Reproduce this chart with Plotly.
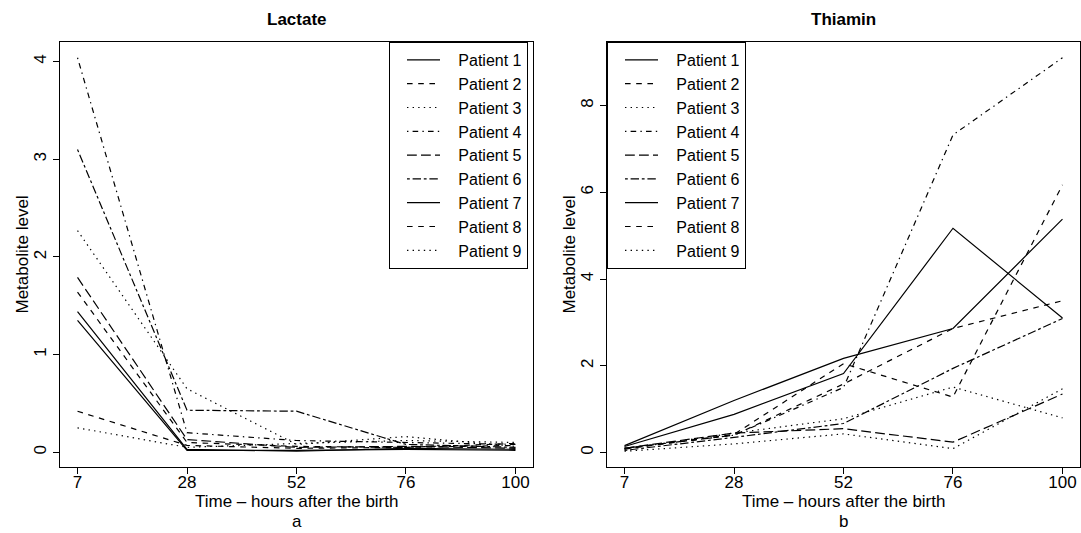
import plotly.graph_objects as go

# ---------------- data ----------------
times = ["7", "28", "52", "76", "100"]
patients = ["Patient 1", "Patient 2", "Patient 3", "Patient 4", "Patient 5",
            "Patient 6", "Patient 7", "Patient 8", "Patient 9"]

# Lactate, one row per patient (values at 7, 28, 52, 76, 100 h)
lactate = [
    [1.44, 0.03, 0.01, 0.04, 0.03],   # Patient 1
    [1.64, 0.10, 0.06, 0.05, 0.07],   # Patient 2
    [2.27, 0.65, 0.08, 0.16, 0.06],   # Patient 3
    [4.04, 0.20, 0.12, 0.10, 0.08],   # Patient 4
    [1.79, 0.13, 0.05, 0.06, 0.04],   # Patient 5
    [3.10, 0.43, 0.42, 0.08, 0.05],   # Patient 6
    [1.35, 0.02, 0.02, 0.03, 0.02],   # Patient 7
    [0.42, 0.07, 0.04, 0.05, 0.09],   # Patient 8
    [0.25, 0.05, 0.09, 0.12, 0.10],   # Patient 9
]

# Thiamin, one row per patient
thiamin = [
    [0.16, 1.20, 2.17, 2.86, 5.38],   # Patient 1
    [0.08, 0.42, 2.05, 1.28, 6.17],   # Patient 2
    [0.08, 0.45, 0.78, 1.51, 0.80],   # Patient 3
    [0.10, 0.40, 1.50, 7.32, 9.10],   # Patient 4
    [0.10, 0.45, 0.55, 0.24, 1.35],   # Patient 5
    [0.05, 0.35, 0.67, 1.94, 3.09],   # Patient 6
    [0.14, 0.88, 1.82, 5.17, 3.10],   # Patient 7
    [0.10, 0.40, 1.58, 2.86, 3.50],   # Patient 8
    [0.03, 0.20, 0.43, 0.09, 1.47],   # Patient 9
]

panel_titles = ["Lactate", "Thiamin"]
panel_letters = ["a", "b"]
x_title = "Time \u2013 hours after the birth"
y_title = "Metabolite level"

# ---------------- styles ----------------
W, H = 1081, 533
FONT = "Liberation Sans, Arial, Helvetica, sans-serif"
FS = 17
LEG_FS = 16
# R line types 1..6 (solid, dashed, dotted, dotdash, longdash, twodash)
dashes = ["solid", "5.6px,5.6px", "1.4px,4.2px", "1.4px,4.2px,5.6px,4.2px",
          "9.8px,4.2px", "2.8px,2.8px,8.4px,2.8px"]

# plot boxes in pixels
left_box = (60, 533)
right_box = (607, 1080)
top_px, bottom_px = 42, 467
legend_left_px = [389, 607]
PAD = "\u00a0\u00a0\u00a0"


def r_range(rows):
    vals = [v for r in rows for v in r]
    lo, hi = min(vals), max(vals)
    pad = 0.04 * (hi - lo)
    return [lo - pad, hi + pad]


n = len(times)
x_range = [-0.04 * (n - 1), (n - 1) * 1.04]

fig = go.Figure()
for i, name in enumerate(patients):
    fig.add_trace(go.Scatter(
        x=times, y=lactate[i], mode="lines", name=PAD + name,
        line=dict(color="black", width=1.2, dash=dashes[i % 6]),
        xaxis="x", yaxis="y", legend="legend"))
for i, name in enumerate(patients):
    fig.add_trace(go.Scatter(
        x=times, y=thiamin[i], mode="lines", name=PAD + name,
        line=dict(color="black", width=1.2, dash=dashes[i % 6]),
        xaxis="x2", yaxis="y2", legend="legend2"))

common_ax = dict(showgrid=False, zeroline=False, ticks="outside", ticklen=6,
                 tickwidth=1, tickcolor="black", showline=True, mirror=True,
                 linecolor="black", linewidth=1,
                 tickfont=dict(family=FONT, size=FS, color="black"))

ydom = [1 - bottom_px / H, 1 - top_px / H]
fig.update_layout(
    width=W, height=H, margin=dict(l=0, r=0, t=0, b=0),
    paper_bgcolor="white", plot_bgcolor="white",
    font=dict(family=FONT, size=FS, color="black"),
    xaxis=dict(domain=[left_box[0] / W, left_box[1] / W], anchor="y",
               type="category", range=x_range, ticklabelstandoff=-6, **common_ax),
    yaxis=dict(domain=ydom, anchor="x", range=r_range(lactate),
               tick0=0, dtick=1, tickangle=-90, **common_ax),
    xaxis2=dict(domain=[right_box[0] / W, right_box[1] / W], anchor="y2",
                type="category", range=x_range, ticklabelstandoff=-6, **common_ax),
    yaxis2=dict(domain=ydom, anchor="x2", range=r_range(thiamin),
                tick0=0, dtick=2, tickangle=-90, **common_ax),
    showlegend=True,
)

leg_common = dict(y=1 - top_px / H, xanchor="left", yanchor="top",
                  bgcolor="white", bordercolor="black", borderwidth=1,
                  font=dict(family=FONT, size=LEG_FS, color="black"),
                  indentation=12, itemwidth=33, tracegroupgap=0)
fig.update_layout(legend=dict(x=legend_left_px[0] / W, **leg_common),
                  legend2=dict(x=legend_left_px[1] / W, **leg_common))

annots = []
for (l, r), t, letter in zip([left_box, right_box], panel_titles, panel_letters):
    cx = (l + r) / 2 / W
    annots.append(dict(text="<b>" + t + "</b>", x=cx, y=1 - 19 / H,
                       xref="paper", yref="paper", showarrow=False,
                       xanchor="center", yanchor="middle",
                       font=dict(family=FONT, size=FS, color="black")))
    annots.append(dict(text=x_title, x=cx, y=1 - 501 / H,
                       xref="paper", yref="paper", showarrow=False,
                       xanchor="center", yanchor="middle",
                       font=dict(family=FONT, size=FS, color="black")))
    annots.append(dict(text=letter, x=cx, y=1 - 521 / H,
                       xref="paper", yref="paper", showarrow=False,
                       xanchor="center", yanchor="middle",
                       font=dict(family=FONT, size=FS, color="black")))
    annots.append(dict(text=y_title, x=(l - 38) / W, y=1 - (top_px + bottom_px) / 2 / H,
                       xref="paper", yref="paper", showarrow=False, textangle=-90,
                       xanchor="center", yanchor="middle",
                       font=dict(family=FONT, size=FS, color="black")))
fig.update_layout(annotations=annots)

fig.write_html("out.html")
